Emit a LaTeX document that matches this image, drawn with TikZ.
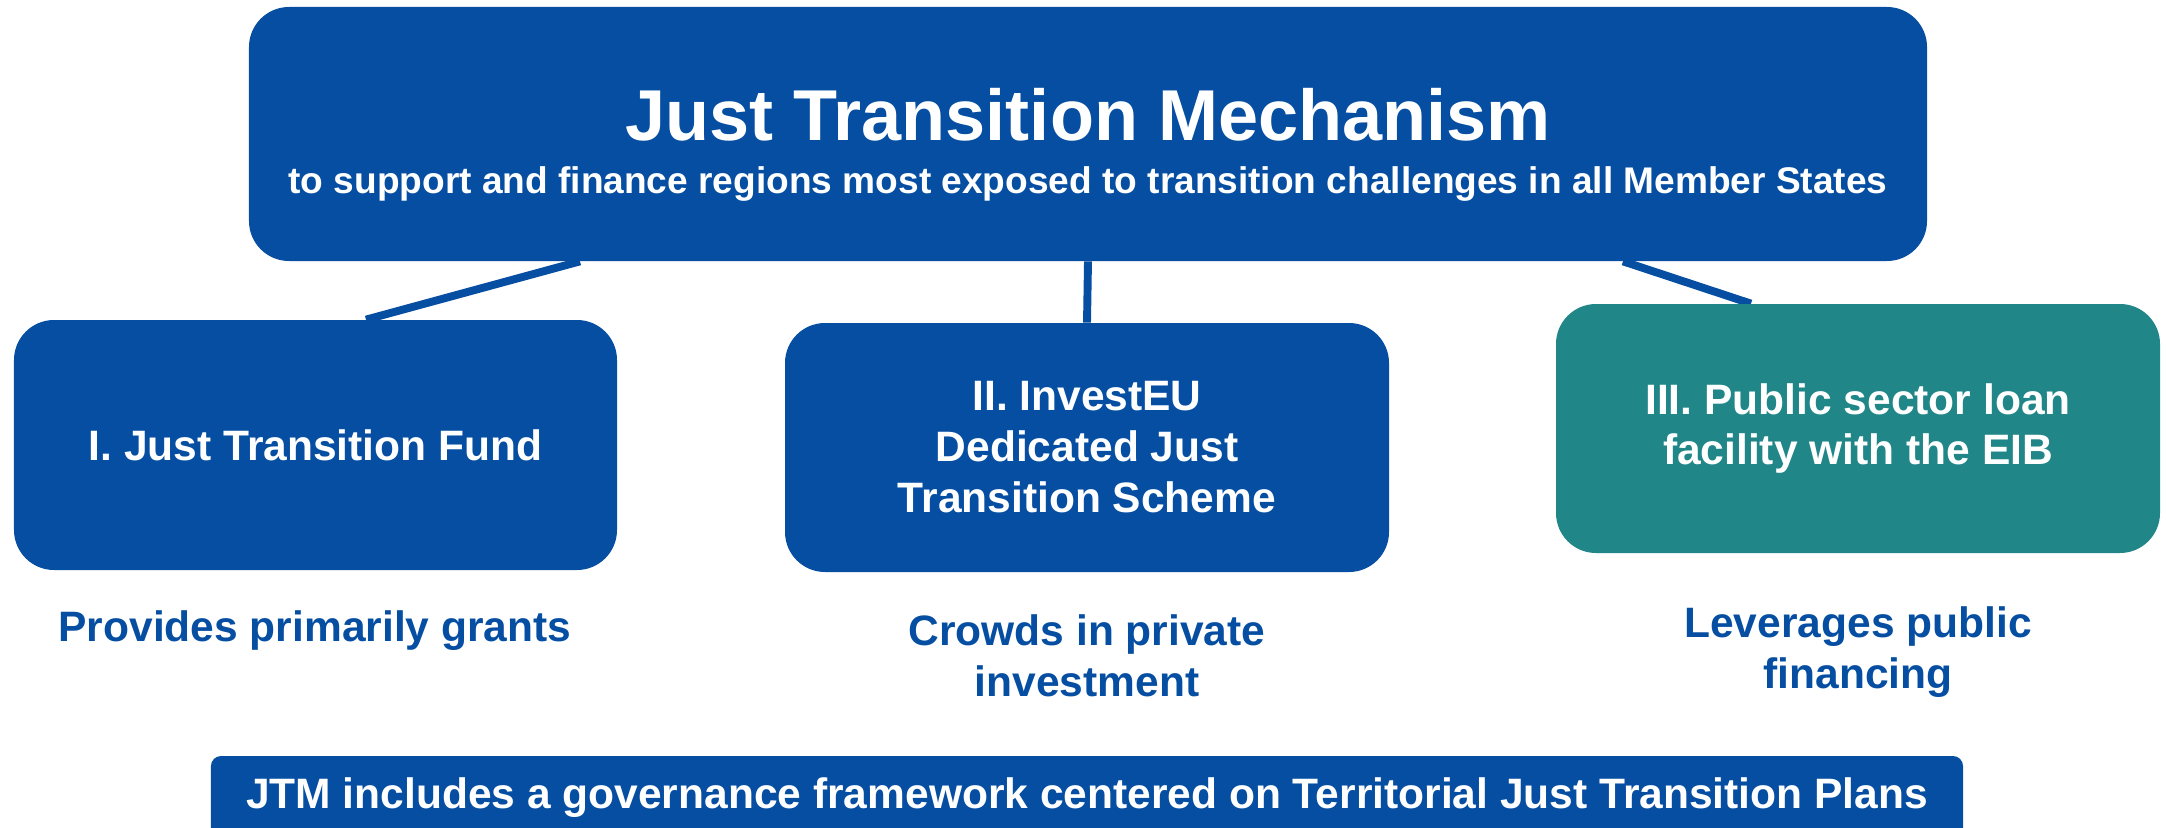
\documentclass[tikz,border=0pt]{standalone}
\usepackage{fontspec}
\setmainfont{Liberation Sans}
\usetikzlibrary{backgrounds}
\definecolor{jtmblue}{RGB}{5,78,162}
\definecolor{jtmteal}{RGB}{32,134,136}

\tikzset{
  box/.style={rounded corners=8mm, fill=#1, text=white, align=center, inner sep=0pt,
    font=\fontsize{24.2}{29}\selectfont\bfseries},
  link/.style={draw=jtmblue, line width=4.5pt},
  note/.style={text=jtmblue, align=center, font=\fontsize{24.2}{29}\selectfont\bfseries},
}

\begin{document}
\begin{tikzpicture}[x=0.2mm, y=-0.2mm]
    \clip (0,0) rectangle (2166,828);

    % Kopf
    \node[box=jtmblue, minimum width=335.6mm, minimum height=50.8mm] (top) at (1088,134) {};
    \node[anchor=base, text=white, font=\fontsize{41}{49}\selectfont\bfseries] (title) at (1088,140) {Just Transition Mechanism};
    \node[anchor=base, text=white, font=\fontsize{21.1}{25}\selectfont\bfseries] (subtitle) at (1088,193) {to support and finance regions most exposed to transition challenges in all Member States};

    % Drei Saeulen
    \node[box=jtmblue, minimum width=120.6mm, minimum height=50mm] (fund) at (315.5,445) {I. Just Transition Fund};
    \node[box=jtmblue, minimum width=120.8mm, minimum height=49.8mm] (invest) at (1087,447.5) {II. InvestEU\\Dedicated Just\\Transition Scheme};
    \node[box=jtmteal, minimum width=120.8mm, minimum height=49.8mm] (loan) at (1858,428.5) {III. Public sector loan\\facility with the EIB};

    % Verbindungen
    \begin{scope}[on background layer]
        \draw[link] ([xshift=-101.6mm]top.south) -- ([xshift=10.1mm]fund.north);
        \draw[link] (top.south) -- (invest.north);
        \draw[link] ([xshift=107mm]top.south) -- ([xshift=-21.4mm]loan.north);
    \end{scope}

    % Texte darunter
    \node[note] (grants) at (315,631) {Provides primarily grants};
    \node[note] (private) at (1087,656) {Crowds in private\\investment};
    \node[note] (public) at (1858,652) {Leverages public\\financing};

    % Leiste unten
    \node[box=jtmblue, rounded corners=2mm, minimum width=350.4mm, minimum height=16.8mm] (plans) at (1087,798) {JTM includes a governance framework centered on Territorial Just Transition Plans};
\end{tikzpicture}
\end{document}
